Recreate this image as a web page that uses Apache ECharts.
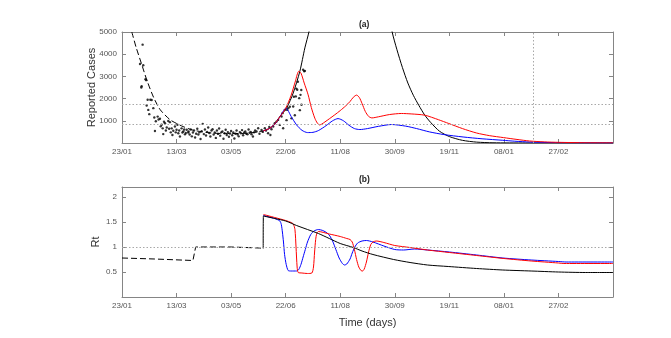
<!DOCTYPE html>
<html>
<head>
<meta charset="utf-8">
<script src="https://cdn.jsdelivr.net/npm/echarts@6/dist/echarts.min.js"></script>
<style>
html,body{margin:0;padding:0;background:#fff;}
#chart{width:671px;height:338px;}
</style>
</head>
<body>
<div id="chart"></div>
<script>
// ---------- DATA ----------
const xTickLabels = ['23/01','13/03','03/05','22/06','11/08','30/09','19/11','08/01','27/02'];

// reported daily cases: [day, cases]
const reportedCases = [
 [16.5,3560],[17.7,2500],[18,2560],[18.9,4430],[19.5,3500],[21.5,2870],[22.2,2830],[22.6,1690],[23.5,1950],[24.1,1490],
 [25,1300],[26,1950],[27.2,1940],[28.7,1570],[29.6,1150],[30.2,540],[31,980],[32.7,1190],[33.5,1060],[34.8,1090],
 [35.5,750],[36.3,820],[37.3,660],[37.8,400],[38.5,960],[39.4,890],[40.2,560],[41,700],[42.4,995],[43.2,640],
 [43.9,940],[44.7,480],[45.5,660],[46.2,360],[47,550],[48.5,740],[49.3,480],[50,600],[50.8,820],[51.6,440],
 [52.4,560],[53.1,290],[54.6,660],[55.4,470],[56.2,520],[57,610],[57.7,390],[58.5,450],[59.3,600],[60.7,470],
 [61,520],[62,380],[63,610],[64,300],[65,470],[66,560],[67,250],[68,420],[69,640],[70,380],
 [71,480],[72,180],[73,530],[74,860],[75,400],[76,610],[77,340],[78,500],[79,700],[80,450],
 [81,290],[82,560],[83,620],[84,380],[85,470],[86,230],[87,560],[88,410],[89,650],[90,330],
 [91,480],[92,520],[93,190],[94,440],[95,600],[96,360],[97,490],[98,280],[99,430],[100,540],
 [101,350],[102,470],[103,200],[104,420],[105,560],[106,380],[107,300],[108,490],[109,440],[110,580],
 [111,350],[112,470],[113,520],[114,420],[115,390],[116,610],[117,460],[118,500],[118.7,394],[120,290],
 [121,480],[122,560],[123.3,515],[124.8,665],[126,420],[127.9,590],[129,500],[130.9,665],[132,560],[133.9,440],
 [135,720],[136,360],[137,620],[138.6,740],[140,890],[141.6,965],[143.1,1040],[144.6,815],[146.2,1194],[147.1,1345],
 [147.7,665],[149.2,1493],[150.8,1030],[151.4,1490],[152.3,1570],[153.8,1630],[155.3,1110],[156.9,1645],[157.5,2080],[158.4,1250],
 [159.3,2100],[159.7,2450],[160.6,2400],[161.2,2760],[162.4,2020],[163,1480],[163.6,2170],[164.3,2385],[164.5,1720],[166,3300],
 [167,3230],[167.6,3250]
];

// fitted curve before intervention (dashed)
const casesFitEarly = [[9,5000],[13,4300],[18,3550],[23,2800],[29,2050],[35,1500],[44,1050],[50,880],[56,740],[65,580],[80,460],[95,425],[110,430],[120,470],[129.4,540]];
// baseline scenario (black solid)
const casesBaseline = [[129.4,540],[135.5,665],[140,850],[144.7,1194],[150.8,1570],[156.9,2250],[163,3230],[167.6,4285],[171.5,5040],[175,6000],[178,7000],
 [null,null],
 [242,6500],[247.6,5000],[252,4200],[257,3400],[262,2700],[267,2150],[272,1700],[277.5,1253],[283,920],[291,530],[300,290],[312,120],[325,40],[340,10],[370,2],[450,0]];
// red scenario
const casesRed = [[129.4,540],[135.5,665],[140,860],[145,1200],[150,1560],[155,2150],[159,2800],[162,3230],[164,3150],[167,2700],[170.6,2170],[173.5,1600],[176.7,1118],[179,900],[181,815],[183,850],
 [186,950],[190,1090],[195,1270],[200,1460],[205,1670],[209,1870],[212,2060],[215,2158],[217.5,2050],[220,1780],[223,1420],[226,1200],[229,1130],[235,1180],[245,1280],[256,1330],[265,1310],[277.5,1253],[290,1050],[299.5,878],[312,650],[324.8,452],[337,330],[349.5,244],[362,160],[373.6,90],[387,50],[400,30],[425,12],[450,5]];
// blue scenario
const casesBlue = [[129.4,540],[135.5,665],[140,850],[145,1200],[148,1450],[150.2,1570],[152,1480],[155,1200],[160,815],[165,570],[170,470],[175,480],[180,560],[187,780],[193,1000],[198,1100],[203,1000],[208,800],[213,650],[218,606],[225,650],[235,750],[247,833],[260,760],[270,650],[282,498],[295,380],[312.6,271],[330,190],[349,122],[360,80],[373.6,45],[400,15],[450,2]];

const rtEarlyDashed = [[0,0.78],[30,0.76],[65,0.73],[67.5,1.0],[100,1.0],[126,0.98],[129.4,0.97]];
const rtBaseline = [[129.4,0.97],[129.6,1.62],[140,1.57],[150,1.52],[160,1.43],[170,1.35],[180,1.27],[190,1.17],[200,1.07],[212,0.99],[220,0.92],[230,0.85],[249,0.75],[264,0.69],[280,0.64],[299,0.61],[325,0.57],[349,0.54],[375,0.52],[400,0.50],[425,0.49],[450,0.49]];
const rtRed = [[129.6,1.65],[140,1.59],[150,1.53],[155,1.49],[157,1.46],[158.5,1.35],[159.5,1.0],[160.5,0.6],[161.5,0.49],[165,0.48],[170,0.47],[174,0.48],[175.5,0.6],[176.5,0.9],[177.5,1.15],[178.5,1.27],[180,1.31],[190,1.26],[200,1.21],[206,1.17],[209,1.15],[211,1.1],[213,0.95],[215,0.75],[217,0.6],[219,0.53],[220.5,0.52],[222,0.56],[224,0.7],[226,0.9],[228,1.05],[230,1.1],[233,1.12],[240,1.09],[250,1.03],[264,0.99],[280,0.94],[300,0.89],[325,0.83],[350,0.77],[375,0.72],[400,0.68],[405,0.67],[450,0.67]];
const rtBlue = [[129.6,1.63],[135,1.6],[140,1.57],[144.7,1.52],[146,1.45],[147,1.3],[148,1.1],[149,0.85],[150.5,0.65],[152.3,0.53],[155,0.52],[160,0.52],[162,0.55],[164,0.65],[166,0.8],[168,0.95],[170,1.1],[173,1.25],[176,1.32],[180,1.35],[184,1.33],[188,1.28],[190.5,1.22],[193,1.12],[196,0.95],[199,0.78],[202,0.67],[204,0.64],[206,0.66],[209,0.76],[211,0.88],[213.4,1.0],[216,1.08],[220,1.12],[224,1.13],[230,1.1],[240,1.02],[250,0.95],[258,0.94],[268,0.96],[280,0.94],[300,0.9],[325,0.84],[349,0.78],[375,0.74],[400,0.71],[407,0.70],[450,0.70]];

const caseRefLevels = [1740, 860];
const caseRefDay = 377;
const rtRefLevel = 1;

// ---------- CHART ----------
const FONT = 'Liberation Sans, Arial, sans-serif';
const AX = '#858585';
const LBL = '#555';
const chart = echarts.init(document.getElementById('chart'), null, {renderer:'canvas'});

function xAxes(gridIndex, withName){
  const base = {
    gridIndex, type:'value', min:0, max:450, interval:50,
    axisLine:{show:true, onZero:false, lineStyle:{color:AX, width:1}},
    axisTick:{show:true, inside:true, length:4, lineStyle:{color:AX}},
    splitLine:{show:false}
  };
  return [
    Object.assign({}, base, {
      position:'bottom',
      axisLabel:{show:true, margin:5, color:LBL, fontSize:8, fontFamily:FONT,
        formatter:v => { const i = Math.round(v/50); return (Math.abs(v - i*50) < 1e-6 && i < xTickLabels.length) ? xTickLabels[i] : ''; }},
      name: withName ? 'Time (days)' : '',
      nameLocation:'middle', nameGap:20, nameMoveOverlap:false,
      nameTextStyle:{fontSize:11, color:'#333', fontFamily:FONT}
    }),
    Object.assign({}, base, {position:'top', axisLabel:{show:false}})
  ];
}
function yAxes(gridIndex, min, max, interval, name, nameGap, fmt){
  const base = {
    gridIndex, type:'value', min, max, interval,
    axisLine:{show:true, onZero:false, lineStyle:{color:AX, width:1}},
    axisTick:{show:true, inside:true, length:4, lineStyle:{color:AX}},
    splitLine:{show:false}
  };
  return [
    Object.assign({}, base, {
      position:'left',
      axisLabel:{show:true, margin:5, color:LBL, fontSize:8, fontFamily:FONT, formatter:fmt},
      name, nameLocation:'middle', nameGap, nameMoveOverlap:false,
      nameTextStyle:{fontSize:11, color:'#333', fontFamily:FONT}
    }),
    Object.assign({}, base, {position:'right', axisLabel:{show:false}})
  ];
}

const dotted = {color:'#a8a8a8', type:[1.5,2], width:1};
function line(data, color, xi, yi, dashed, extra){
  return Object.assign({
    type:'line', data, xAxisIndex:xi, yAxisIndex:yi,
    showSymbol:false, symbol:'none', smooth:0.25, connectNulls:false, clip:true,
    lineStyle:{color, width:1, type: dashed ? [6,3] : 'solid'},
    itemStyle:{color}, silent:true, z:3
  }, extra || {});
}

const option = {
  animation:false,
  backgroundColor:'#fff',
  grid:[
    {left:122, right:58, top:32, height:111, containLabel:false},
    {left:122, right:58, top:187, height:110, containLabel:false}
  ],
  xAxis:[...xAxes(0,false), ...xAxes(1,true)],
  yAxis:[
    ...yAxes(0, 0, 5000, 1000, 'Reported Cases', 25, v => v === 0 ? '' : String(v)),
    ...yAxes(1, 0, 2.2, 0.5, 'Rt', 21, v => (v === 0 || Math.abs(v*2 - Math.round(v*2)) > 1e-6) ? '' : String(v))
  ],
  graphic:[
    {type:'text', left:359, top:20, style:{text:'(a)', font:'bold 8.5px '+FONT, fill:'#222'}},
    {type:'text', left:359, top:175, style:{text:'(b)', font:'bold 8.5px '+FONT, fill:'#222'}}
  ],
  series:[
    // panel (a)
    {type:'line', data:[], xAxisIndex:0, yAxisIndex:0, silent:true,
      markLine:{silent:true, symbol:'none', label:{show:false}, lineStyle:dotted,
        data: caseRefLevels.map(v => ({yAxis:v})).concat([{xAxis:caseRefDay}])}},
    {type:'scatter', data:reportedCases, xAxisIndex:0, yAxisIndex:0, symbol:'circle', symbolSize:2.4,
      itemStyle:{color:'#000'}, silent:true, z:2},
    line(casesFitEarly, '#000', 0, 0, true),
    line(casesBaseline, '#000', 0, 0, false),
    line(casesBlue, '#0000ff', 0, 0, false),
    line(casesRed, '#ff0000', 0, 0, false),
    // panel (b)
    {type:'line', data:[], xAxisIndex:2, yAxisIndex:2, silent:true,
      markLine:{silent:true, symbol:'none', label:{show:false}, lineStyle:dotted, data:[{yAxis:rtRefLevel}]}},
    line(rtEarlyDashed, '#000', 2, 2, true, {smooth:false}),
    line(rtBlue, '#0000ff', 2, 2, false),
    line(rtRed, '#ff0000', 2, 2, false),
    line(rtBaseline, '#000', 2, 2, false)
  ]
};
chart.setOption(option);
</script>
</body>
</html>
